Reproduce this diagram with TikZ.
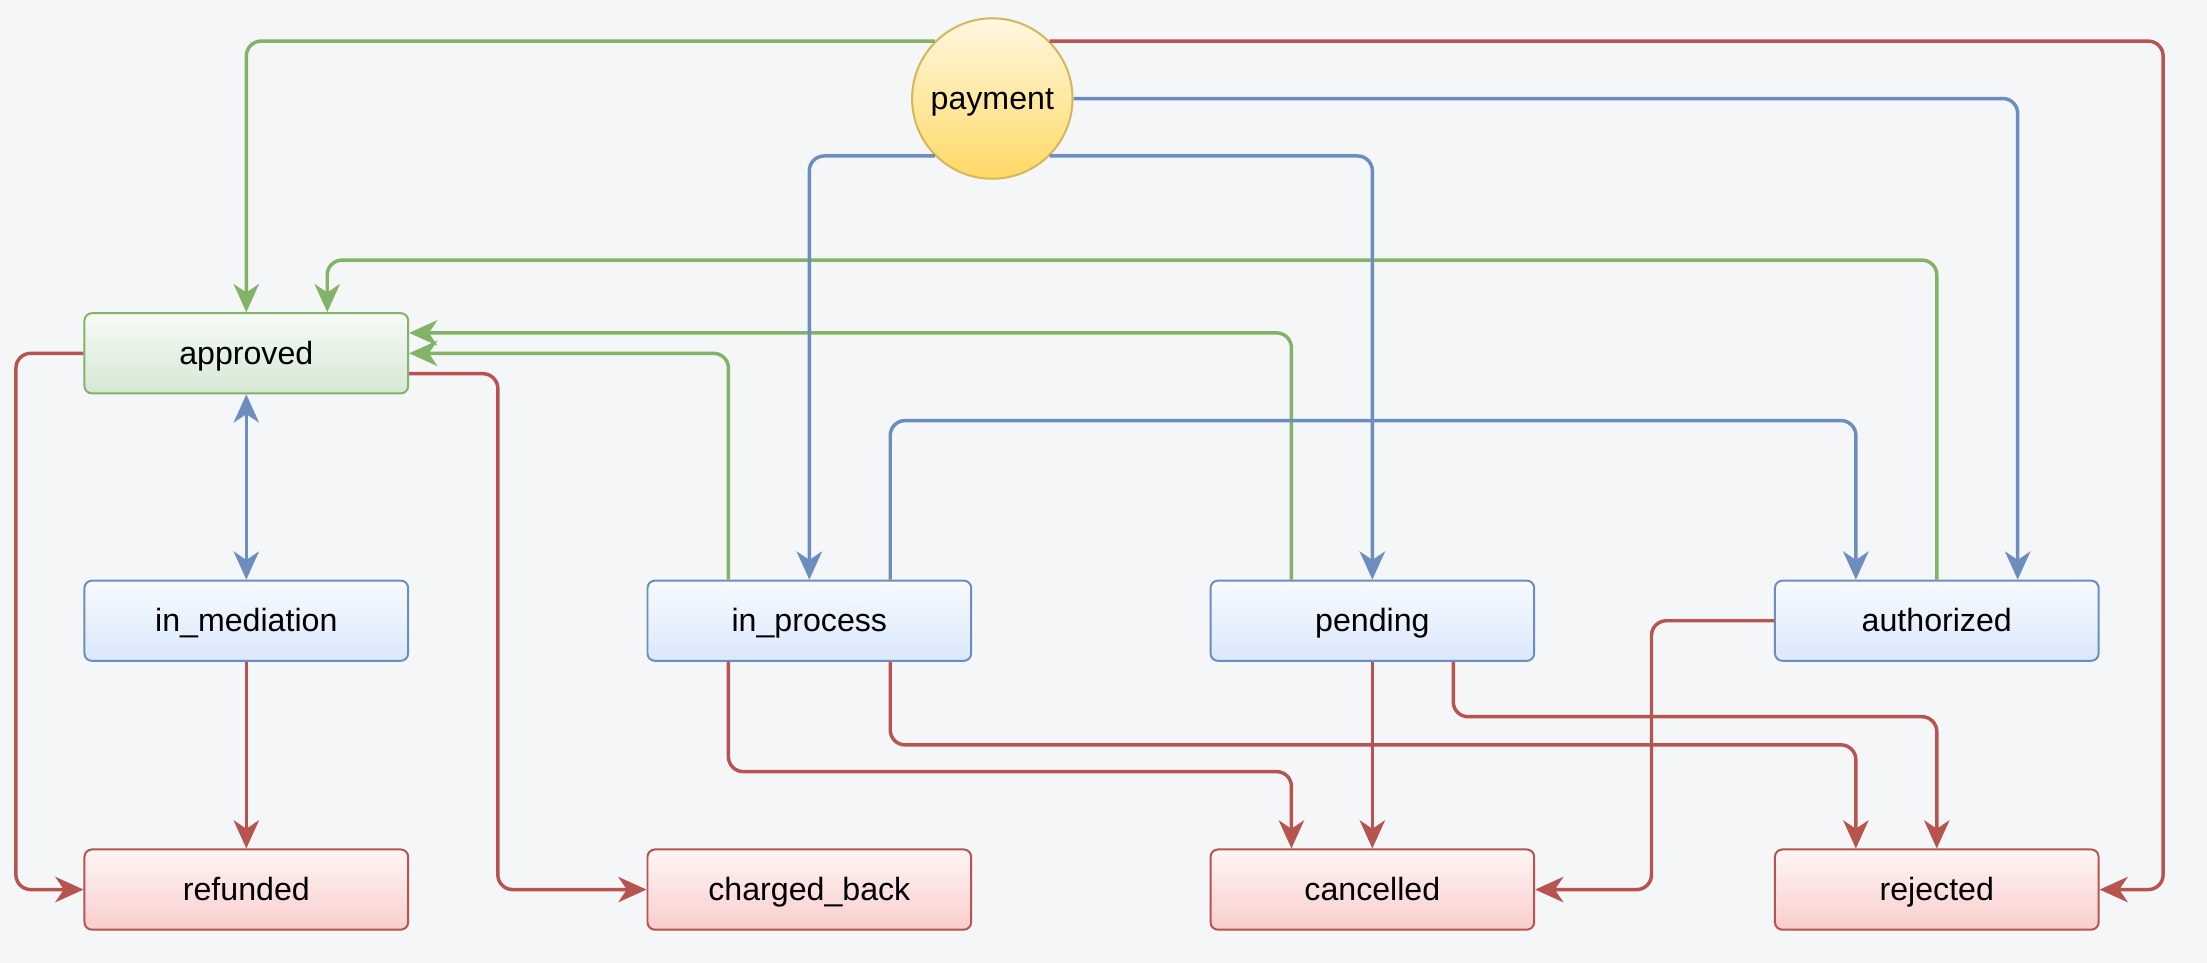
\documentclass[tikz,border=0pt]{standalone}
\usepackage{fontspec}
\setmainfont{Liberation Sans}
\usetikzlibrary{arrows.meta}
\definecolor{bgcol}{HTML}{F4F6F8}
\definecolor{grnline}{HTML}{82B366}
\definecolor{grnfill}{HTML}{D5E8D4}
\definecolor{bluline}{HTML}{6C8EBF}
\definecolor{blufill}{HTML}{DAE8FC}
\definecolor{redline}{HTML}{B85450}
\definecolor{redfill}{HTML}{F8CECC}
\definecolor{ylwline}{HTML}{D6B656}
\definecolor{ylwfill}{HTML}{FFD966}
\begin{document}
\begin{tikzpicture}[x=0.02cm, y=-0.02cm, >={Stealth[length=0.4cm, width=0.36cm, inset=0.12cm]},
  stbox/.style={rectangle, rounded corners=3pt, minimum width=4.6cm, minimum height=1.14cm, inner sep=0pt, line width=0.8pt, text height=11pt, text depth=2pt, font=\fontsize{13}{15}\selectfont},
  grnbox/.style={stbox, draw=grnline, top color=grnfill!20!white, bottom color=grnfill},
  blubox/.style={stbox, draw=bluline, top color=blufill!20!white, bottom color=blufill},
  redbox/.style={stbox, draw=redline, top color=redfill!20!white, bottom color=redfill},
  edge/.style={line width=1.4pt, rounded corners=6pt, ->},
  grnarr/.style={edge, draw=grnline},
  bluarr/.style={edge, draw=bluline},
  redarr/.style={edge, draw=redline}]
\fill[bgcol] (0,0) rectangle (1568,684);
\useasboundingbox (0,0) rectangle (1568,684);
\node[circle, minimum size=2.28cm, inner sep=0pt, line width=0.8pt, draw=ylwline, top color=ylwfill!20!white, bottom color=ylwfill, text height=11pt, text depth=2pt, font=\fontsize{13}{15}\selectfont] (payment) at (705,70) {payment};
\node[grnbox] (approved) at (175,251) {approved};
\node[blubox] (inmediation) at (175,441) {in\_mediation};
\node[blubox] (inprocess) at (575,441) {in\_process};
\node[blubox] (pending) at (975,441) {pending};
\node[blubox] (authorized) at (1376,441) {authorized};
\node[redbox] (refunded) at (175,632) {refunded};
\node[redbox] (chargedback) at (575,632) {charged\_back};
\node[redbox] (cancelled) at (975,632) {cancelled};
\node[redbox] (rejected) at (1376,632) {rejected};
\draw[grnarr] (payment.135) -| (approved.north);
\draw[grnarr] (authorized.north) -- ++(0,-227) -| ([xshift=1.15cm]approved.north);
\draw[grnarr] ([xshift=-1.15cm]pending.north) |- ([yshift=0.29cm]approved.east);
\draw[grnarr] ([xshift=-1.15cm]inprocess.north) |- (approved.east);
\draw[bluarr] (payment.225) -| (inprocess.north);
\draw[bluarr] (payment.315) -| (pending.north);
\draw[bluarr] (payment.east) -| ([xshift=1.15cm]authorized.north);
\draw[bluarr] ([xshift=1.15cm]inprocess.north) -- ++(0,-113) -| ([xshift=-1.15cm]authorized.north);
\draw[bluarr, <->] (approved.south) -- (inmediation.north);
\draw[redarr] (approved.west) -- ++(-48,0) |- (refunded.west);
\draw[redarr] ([yshift=-0.29cm]approved.east) -- ++(63,0) |- (chargedback.west);
\draw[redarr] (inmediation.south) -- (refunded.north);
\draw[redarr] ([xshift=-1.15cm]inprocess.south) -- ++(0,78) -| ([xshift=-1.15cm]cancelled.north);
\draw[redarr] ([xshift=1.15cm]inprocess.south) -- ++(0,59) -| ([xshift=-1.15cm]rejected.north);
\draw[redarr] (pending.south) -- (cancelled.north);
\draw[redarr] ([xshift=1.15cm]pending.south) -- ++(0,39) -| (rejected.north);
\draw[redarr] (authorized.west) -- ++(-87,0) |- (cancelled.east);
\draw[redarr] (payment.45) -- ++(791,0) |- (rejected.east);
\end{tikzpicture}
\end{document}
